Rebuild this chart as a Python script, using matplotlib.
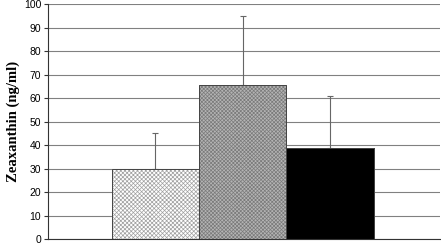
import numpy as np
import matplotlib.pyplot as plt

groups = ['A', 'B', 'C']
means = [30, 65.5, 39]
upper_err = [15, 29.5, 22]

plt.rcParams['hatch.linewidth'] = 0.5

fig = plt.figure(figsize=(4.41, 2.44), dpi=100)
ax = fig.add_axes([0.109, 0.02, 0.889, 0.962])

x = np.arange(len(groups))
faces = ['white', '#b4b4b4', 'black']
hatches = ['xxxxxxxx', 'xxxxxxxxx', None]
hcolors = ['#a0a0a0', '#7a7a7a', 'black']
for i in range(len(groups)):
    ax.bar(x[i], means[i], width=1.0, color=faces[i], hatch=hatches[i],
           edgecolor=hcolors[i], linewidth=0.6, zorder=2)
    ax.bar(x[i], means[i], width=1.0, fill=False, edgecolor='#444444',
           linewidth=0.7, zorder=3)
ax.errorbar(x, means, yerr=[np.zeros(3), upper_err], fmt='none',
            ecolor='#666666', elinewidth=0.8, capsize=2, capthick=0.8, zorder=1)

ax.set_ylim(0, 100)
ax.set_xlim(-1.23, 3.26)
ax.set_yticks(range(0, 101, 10))
ax.yaxis.grid(True, color='#808080', linewidth=0.8, zorder=0)
ax.set_axisbelow(True)
ax.set_xticks([])
for s in ['top', 'right']:
    ax.spines[s].set_visible(False)
ax.spines['left'].set_color('#333333')
ax.spines['bottom'].set_color('#333333')
ax.tick_params(axis='y', length=3, width=0.8, color='#333333', labelsize=7.5, pad=2)
for lab in ax.get_yticklabels():
    lab.set_family('Liberation Sans')
ax.set_ylabel('Zeaxanthin (ng/ml)', family='Liberation Serif', fontweight='bold',
              fontsize=10.5, labelpad=3)

fig.savefig('out.png', dpi=100)
